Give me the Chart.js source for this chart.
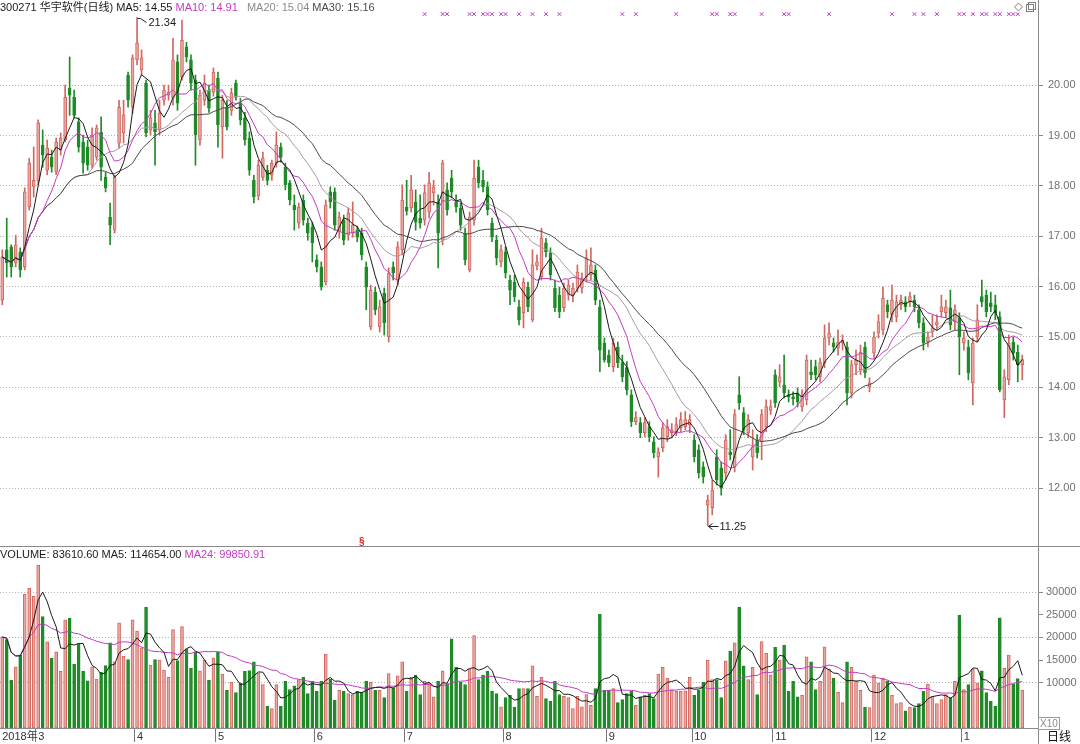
<!DOCTYPE html>
<html>
<head>
<meta charset="utf-8">
<script src="https://cdn.jsdelivr.net/npm/chart.js@4.4.0/dist/chart.umd.min.js"></script>
<style>
  html, body { margin: 0; padding: 0; background: #fff; }
  body { width: 1080px; height: 744px; position: relative; overflow: hidden;
         font-family: "Liberation Sans", "Noto Sans CJK SC", sans-serif; }
  canvas { position: absolute; left: 0; }
  #priceCanvas { top: 0; }
  #volCanvas { top: 547px; }
  .txt { position: absolute; font-size: 11px; line-height: 12px; white-space: nowrap; }
  .rule { position: absolute; background: #8a8a8a; }
</style>
</head>
<body>
<canvas id="priceCanvas" width="1080" height="546"></canvas>
<canvas id="volCanvas" width="1080" height="197"></canvas>
<div class="rule" style="left:0;top:546px;width:1080px;height:1px"></div>
<div class="rule" style="left:1038px;top:728px;width:1px;height:16px"></div>

<div class="txt" style="left:0;top:1px">
  <span style="color:#1a1a1a">300271 华宇软件(日线) MA5: 14.55</span>
  <span style="color:#c23bc2">MA10: 14.91</span>
  <span style="color:#8c8c8c;margin-left:6px">MA20: 15.04</span>
  <span style="color:#4a4a4a">MA30: 15.16</span>
</div>
<div class="txt" style="left:0;top:548px">
  <span style="color:#1a1a1a">VOLUME: 83610.60 MA5: 114654.00</span>
  <span style="color:#c23bc2">MA24: 99850.91</span>
</div>
<div class="txt" style="left:1038px;top:717px;width:20px;height:11px;border:1px solid #9a9a9a;color:#8a8a8a;font-size:10px;line-height:11px;text-align:center">X10</div>
<div class="txt" style="left:1047px;top:731px;font-size:12px;line-height:13px;color:#111">日线</div>

<script>
// daily candles, 2018-02 .. 2019-01
const opens = [
  15.73,16.73,16.79,16.47,16.69,16.39,17.58,17.99,18.11,18.81,
  18.31,18.57,18.27,18.71,18.91,19.94,19.76,19.27,18.87,18.77,
  18.41,18.57,19.07,18.17,17.38,17.12,18.85,19.05,20.20,19.56,
  20.50,20.30,20.04,19.11,19.25,19.11,19.70,19.80,19.74,20.46,
  20.16,20.76,20.50,20.10,18.91,19.70,19.90,19.86,20.14,19.17,
  19.56,19.50,20.04,19.64,19.35,18.95,18.11,17.80,18.17,18.31,
  18.21,18.45,18.77,18.37,18.06,17.62,17.26,17.72,17.26,17.18,
  16.53,16.39,16.09,17.88,17.88,17.08,17.32,17.02,17.06,17.12,
  17.06,16.39,15.20,15.89,15.20,15.87,15.00,16.39,16.13,16.73,
  17.58,17.56,17.68,17.36,17.32,17.48,17.86,17.68,16.92,17.92,
  18.15,17.68,17.56,17.06,16.33,17.32,18.37,18.11,17.98,17.26,
  16.92,16.49,16.69,16.13,16.09,15.60,15.48,15.99,15.34,16.41,
  16.19,16.87,16.67,15.97,15.83,15.58,15.83,15.83,15.97,15.97,
  16.19,16.23,16.33,15.60,14.88,14.64,14.41,14.80,14.49,14.39,
  13.85,13.32,13.30,13.10,13.22,12.92,12.62,12.80,13.02,13.10,
  13.12,13.20,13.22,13.26,12.96,12.76,12.42,11.66,11.61,12.62,
  12.40,12.30,12.72,12.42,13.85,13.50,13.10,12.62,12.96,12.92,
  13.22,13.54,14.25,14.11,14.05,13.85,13.81,13.89,13.61,13.75,
  14.31,14.41,14.21,14.49,14.98,14.88,14.78,14.88,14.80,13.89,
  14.45,14.35,14.80,14.01,14.68,15.08,15.14,15.64,15.44,15.40,
  15.64,15.70,15.70,15.73,15.54,15.28,14.90,15.10,15.24,15.50,
  15.48,15.58,15.30,15.38,14.88,14.80,14.09,15.00,15.80,15.83,
  15.68,15.64,15.40,13.75,14.15,14.90,14.70,14.45
];
const highs = [
  16.73,17.36,16.83,17.02,16.77,17.96,18.55,18.77,19.31,19.11,
  18.91,18.71,18.95,19.05,20.00,20.56,19.90,19.35,19.01,18.91,
  19.15,19.21,19.37,18.27,17.66,18.21,19.70,19.70,20.26,20.60,
  21.34,20.70,20.10,19.50,19.50,19.70,20.00,20.00,20.93,20.60,
  21.29,20.85,20.60,20.20,19.90,20.20,20.00,20.34,20.26,19.80,
  19.70,19.94,20.10,19.74,19.46,19.07,18.21,18.51,18.67,18.41,
  18.51,19.07,18.85,18.45,18.11,17.82,17.66,17.82,17.36,17.28,
  16.63,16.49,17.72,17.98,17.96,17.48,17.42,17.56,17.68,17.20,
  17.16,16.49,16.03,15.99,15.73,15.97,16.37,16.49,16.89,18.02,
  18.11,18.21,17.92,17.82,18.02,18.27,18.11,17.82,18.51,18.06,
  18.31,17.82,17.66,17.16,17.48,18.51,18.51,18.31,18.08,17.36,
  17.02,16.83,16.79,16.23,16.23,15.73,16.17,16.09,16.73,16.63,
  17.16,16.96,16.77,16.13,15.99,16.07,16.13,16.07,16.43,16.27,
  16.73,16.77,16.43,15.73,14.98,14.74,14.98,14.90,14.64,14.51,
  13.95,13.52,13.40,13.40,13.32,13.02,12.80,13.30,13.36,13.28,
  13.40,13.50,13.52,13.46,13.06,12.86,12.52,11.86,12.16,12.76,
  12.52,13.06,13.16,13.56,14.21,13.60,13.46,13.16,13.06,13.56,
  13.75,13.75,14.35,14.45,14.64,13.95,13.91,13.99,13.95,14.64,
  14.54,14.54,14.58,15.24,15.28,14.98,15.14,15.04,14.90,14.54,
  14.74,14.84,14.90,14.19,15.10,15.44,15.99,15.73,16.03,15.83,
  15.83,15.80,15.89,15.83,15.64,15.38,15.10,15.44,15.44,15.83,
  15.73,15.93,15.64,15.48,15.10,14.94,14.98,15.64,16.13,15.93,
  15.89,15.83,15.50,14.35,15.04,15.00,14.84,14.64
];
const lows = [
  15.64,16.19,16.19,16.39,16.19,16.33,17.52,17.78,18.02,18.37,
  18.22,18.27,18.22,18.61,18.87,19.40,19.35,18.67,18.25,18.31,
  18.35,18.51,18.11,17.88,16.83,17.06,18.75,18.85,19.56,19.44,
  20.40,20.20,18.97,19.01,18.41,19.01,19.60,19.70,19.60,19.50,
  20.10,20.46,19.90,18.41,18.81,19.60,19.46,19.78,18.77,18.55,
  19.11,19.40,19.70,19.21,18.81,18.21,17.66,17.72,18.11,18.02,
  18.11,18.37,18.47,17.92,17.62,17.12,17.16,17.22,16.92,16.49,
  16.29,15.93,16.03,17.56,17.12,16.96,16.83,16.92,16.98,16.89,
  16.53,15.54,15.14,15.44,15.10,15.04,14.90,16.13,16.03,16.63,
  17.42,17.48,17.12,17.16,17.22,17.36,17.62,16.37,16.83,17.42,
  17.76,17.48,17.12,16.43,16.29,17.22,17.96,17.88,17.42,16.89,
  16.43,16.39,16.17,15.64,15.70,15.24,15.18,15.50,15.30,16.33,
  16.13,16.59,16.13,15.50,15.38,15.50,15.73,15.70,15.89,15.87,
  16.09,16.13,15.64,14.31,14.50,14.41,14.31,14.39,14.11,13.85,
  13.22,13.26,13.00,13.02,12.92,12.60,12.22,12.72,12.92,13.00,
  13.04,13.12,13.16,13.10,12.52,12.20,12.10,11.25,11.47,12.06,
  11.86,12.16,12.56,12.32,13.56,13.06,13.00,12.36,12.60,12.56,
  13.12,13.46,13.60,14.01,13.79,13.71,13.65,13.61,13.52,13.65,
  14.15,14.15,14.11,14.39,14.84,14.70,14.64,14.74,13.65,13.79,
  14.25,14.25,14.19,13.91,14.58,14.98,15.04,15.38,15.30,15.30,
  15.54,15.50,15.60,15.50,15.18,14.74,14.80,15.00,15.14,15.40,
  15.38,15.14,15.14,14.25,14.74,14.15,13.65,14.90,15.60,15.40,
  15.50,15.34,13.91,13.40,14.05,14.54,14.11,14.15
];
const closes = [
  16.59,16.47,16.39,16.83,16.33,17.88,18.45,18.11,19.25,18.61,
  18.75,18.37,18.87,18.95,19.76,19.80,19.40,18.77,18.45,18.41,
  19.01,19.15,18.37,17.96,17.22,18.17,19.56,19.41,19.70,20.54,
  20.84,20.54,19.05,19.35,19.07,19.44,19.90,19.86,20.50,19.64,
  20.89,20.56,20.04,19.01,19.80,20.04,19.54,20.26,19.21,19.70,
  19.17,19.84,19.76,19.31,18.91,18.31,17.78,18.41,18.55,18.11,
  18.45,18.81,18.57,18.02,17.72,17.52,17.58,17.32,17.06,16.87,
  16.39,15.99,17.62,17.68,17.22,17.38,16.92,17.46,17.22,16.98,
  16.63,15.99,15.93,15.54,15.60,15.28,16.27,16.27,16.79,17.72,
  17.50,17.92,17.28,17.26,17.86,18.06,17.98,17.06,18.45,17.52,
  17.88,17.58,17.22,16.53,17.38,18.15,18.06,17.98,17.52,16.98,
  16.57,16.73,16.27,15.93,15.80,15.34,16.09,15.60,16.43,16.49,
  16.96,16.69,16.23,15.58,15.50,15.97,16.03,15.97,16.29,16.17,
  16.57,16.43,15.73,14.74,14.54,14.49,14.88,14.49,14.21,13.95,
  13.32,13.40,13.10,13.30,13.02,12.70,12.72,13.20,13.22,13.16,
  13.26,13.36,13.36,13.36,12.62,12.30,12.22,11.76,11.96,12.16,
  12.00,12.96,12.66,13.46,13.69,13.16,13.36,12.82,12.70,13.46,
  13.62,13.62,13.69,14.21,13.89,13.81,13.77,13.71,13.85,14.54,
  14.25,14.25,14.49,14.98,15.08,14.80,14.90,14.94,13.89,14.45,
  14.54,14.70,14.29,14.09,15.00,15.30,15.77,15.50,15.73,15.70,
  15.73,15.60,15.80,15.60,15.28,14.88,15.00,15.18,15.30,15.60,
  15.60,15.24,15.54,15.00,14.98,14.29,14.88,15.34,15.70,15.50,
  15.60,15.48,13.95,14.21,14.88,14.68,14.45,14.55
];
// volume in axis units (x10 shares)
const volumes = [
  20100,19500,10500,13500,16100,29500,30900,29100,35900,24600,
  19000,15400,16800,12500,23900,24200,14100,18600,12500,10400,
  13500,10800,12300,13800,18800,14600,23200,15900,15100,23900,
  21400,17700,26700,13900,15100,15000,12800,11200,21700,14900,
  22400,17500,13200,16800,12600,15000,10500,15500,16800,11900,
  8300,10100,7800,9900,12500,12700,14600,12200,9600,4800,
  4300,9600,4800,10300,8500,9300,10700,11200,7600,10300,
  8100,10300,16300,10800,6100,8300,8100,7600,7400,8100,
  7900,10300,10100,8300,8300,6700,12000,8800,11500,14600,
  8100,11200,11700,7400,10300,9900,6900,10300,12600,9800,
  19700,13400,10100,9600,13000,20400,10700,11700,12500,8100,
  7600,4700,6700,7200,4600,8700,8700,8700,13700,7000,
  11200,6500,5900,10300,7400,7000,6700,4300,7000,4700,
  7400,5000,8700,25100,8300,8300,8700,5600,6300,7600,
  8100,5000,6900,7200,7600,6500,11900,13400,11000,8500,
  8100,8100,8200,11200,7200,8300,10100,15000,10700,10700,
  6700,14800,17000,18800,26700,13700,10700,13400,7400,19100,
  16500,11700,17800,15000,18300,8100,10300,6900,7200,15700,
  14600,8500,10300,17900,13000,11000,7900,5600,14600,13400,
  10300,8300,4600,4500,11700,9900,11000,10400,7200,5400,
  5600,3800,4600,4500,5400,8100,9700,7000,5400,6300,
  7400,6700,10300,24900,8500,9600,13000,9900,12600,7800,
  5900,4800,24300,13200,16100,9700,10900,8361
];
// signal markers (day index) along the top
const markerDays = [94,98,99,104,105,107,108,109,111,112,115,118,121,124,138,141,150,
  158,159,162,163,169,174,175,184,198,203,205,208,213,214,216,218,219,221,222,224,225,226];
const dividendDay = 80;
// month ticks on the date axis
const monthTickIdx = [0, 8, 30, 48, 70, 90, 112, 135, 154, 172, 194, 214];
const monthTickText = ['2018年', '3', '4', '5', '6', '7', '8', '9', '10', '11', '12', '1'];
const priceTicks = [12, 13, 14, 15, 16, 17, 18, 19, 20];
const volumeTicks = [10000, 15000, 20000, 25000, 30000];

const SLOTS = 231;
const slotLabels = Array.from({ length: SLOTS }, (_, i) => String(i));

const FONT = '"Liberation Sans", "Noto Sans CJK SC", sans-serif';
Chart.defaults.font.family = FONT;
Chart.defaults.font.size = 11;

const upFill = '#e9a7a2', upLine = '#d2665f', downCol = '#1f8b28';
const isUp = closes.map((c, i) => c >= opens[i]);

function movingAverage(values, n) {
  return values.map((_, i) => {
    const win = values.slice(Math.max(0, i - n + 1), i + 1);
    return win.reduce((a, b) => a + b, 0) / win.length;
  });
}

function rightAxisFit(s) {
  s.width = 42;
  s.paddingTop = 0;
  s.paddingBottom = 0;
}

const lineDs = (label, data, color, order) => ({
  type: 'line', label, data, borderColor: color, borderWidth: 1,
  pointRadius: 0, pointHitRadius: 0, tension: 0, fill: false, order
});

// annotations: high / low labels, dividend mark, corner icons
const priceNotes = {
  id: 'priceNotes',
  afterDatasetsDraw(chart) {
    const { ctx, scales: { x, y }, chartArea } = chart;
    ctx.save();
    ctx.font = '11px ' + FONT;
    ctx.strokeStyle = '#222';
    ctx.fillStyle = '#222';
    ctx.lineWidth = 1;
    ctx.textBaseline = 'middle';

    const hi = Math.max(...highs), iHi = highs.indexOf(hi);
    let px = Math.round(x.getPixelForValue(iHi)) + 0.5;
    let py = Math.round(y.getPixelForValue(hi)) + 0.5;
    ctx.beginPath();
    ctx.moveTo(px, py); ctx.lineTo(px + 3, py); ctx.lineTo(px + 9, py + 4);
    ctx.stroke();
    ctx.fillText(hi.toFixed(2), px + 11, py + 4);

    const lo = Math.min(...lows), iLo = lows.indexOf(lo);
    px = Math.round(x.getPixelForValue(iLo)) + 0.5;
    py = Math.round(y.getPixelForValue(lo)) + 0.5;
    ctx.beginPath();
    ctx.moveTo(px, py); ctx.lineTo(px + 10, py);
    ctx.moveTo(px + 4, py - 3); ctx.lineTo(px, py); ctx.lineTo(px + 4, py + 3);
    ctx.stroke();
    ctx.fillText(lo.toFixed(2), px + 11, py);

    ctx.fillStyle = '#d02828';
    ctx.font = 'bold 10px ' + FONT;
    ctx.textAlign = 'center';
    ctx.fillText('§', x.getPixelForValue(dividendDay), chartArea.bottom - 4);

    ctx.strokeStyle = '#808080';
    ctx.beginPath();
    ctx.moveTo(1018.5, 3); ctx.lineTo(1022.5, 7); ctx.lineTo(1018.5, 11); ctx.lineTo(1014.5, 7); ctx.closePath();
    ctx.stroke();
    ctx.strokeRect(1026.5, 4.5, 7, 7);
    ctx.strokeRect(1028.5, 2.5, 7, 7);
    ctx.restore();
  }
};

new Chart(document.getElementById('priceCanvas'), {
  type: 'bar',
  data: {
    labels: slotLabels,
    datasets: [
      { type: 'bar', data: lows.map((l, i) => [l, highs[i]]),
        backgroundColor: isUp.map(u => u ? upLine : downCol),
        barThickness: 1, grouped: false, order: 5 },
      { type: 'bar', data: opens.map((o, i) => [o, closes[i]]),
        backgroundColor: isUp.map(u => u ? upFill : downCol),
        borderColor: isUp.map(u => u ? upLine : downCol),
        borderWidth: 1, borderSkipped: false, minBarLength: 1,
        barThickness: 3, grouped: false, order: 4 },
      lineDs('MA30', movingAverage(closes, 30), '#4a4a4a', 3),
      lineDs('MA20', movingAverage(closes, 20), '#a898a4', 3),
      lineDs('MA10', movingAverage(closes, 10), '#c23bc2', 2),
      lineDs('MA5', movingAverage(closes, 5), '#1a1a1a', 1),
      { type: 'line', data: closes.map((_, i) => markerDays.includes(i) ? 21.41 : null),
        showLine: false, pointStyle: 'crossRot', pointRadius: 2.6, pointHitRadius: 0,
        borderColor: '#c23bc2', borderWidth: 1, order: 0 }
    ]
  },
  options: {
    responsive: false, animation: false, events: [],
    layout: { padding: 0, autoPadding: false },
    plugins: { legend: { display: false }, tooltip: { enabled: false } },
    scales: {
      x: { type: 'category', display: false, offset: true, grid: { offset: true } },
      y: {
        position: 'right', min: 10.85, max: 21.69,
        afterBuildTicks: s => { s.ticks = priceTicks.map(v => ({ value: v })); },
        afterFit: rightAxisFit,
        ticks: { color: '#707070', padding: 5, callback: v => Number(v).toFixed(2) },
        grid: { color: '#b0b0b0', tickColor: '#8a8a8a', tickLength: 5 },
        border: { display: true, color: '#8a8a8a', dash: [1, 2] }
      }
    }
  },
  plugins: [priceNotes]
});

new Chart(document.getElementById('volCanvas'), {
  type: 'bar',
  data: {
    labels: slotLabels,
    datasets: [
      { type: 'bar', data: volumes,
        backgroundColor: isUp.map(u => u ? upFill : downCol),
        borderColor: isUp.map(u => u ? upLine : downCol),
        borderWidth: 1, borderSkipped: false, barThickness: 3, order: 3 },
      lineDs('MA24', movingAverage(volumes, 24), '#c23bc2', 2),
      lineDs('MA5', movingAverage(volumes, 5), '#1a1a1a', 1)
    ]
  },
  options: {
    responsive: false, animation: false, events: [],
    layout: { padding: 0, autoPadding: false },
    plugins: { legend: { display: false }, tooltip: { enabled: false } },
    scales: {
      x: {
        type: 'category', offset: true,
        afterFit: s => { s.height = 16; s.paddingLeft = 0; s.paddingRight = 0; },
        grid: {
          offset: true, drawOnChartArea: false, tickLength: 14,
          color: c => (monthTickIdx.indexOf(c.index) > 0 ? '#777' : 'transparent')
        },
        border: { display: true, color: '#8a8a8a' },
        ticks: {
          autoSkip: false, maxRotation: 0, minRotation: 0, align: 'start', padding: -12,
          color: '#333',
          callback: (v, i) => { const k = monthTickIdx.indexOf(i); return k >= 0 ? monthTickText[k] : ''; }
        }
      },
      y: {
        position: 'right', min: 0, max: 39950,
        afterBuildTicks: s => { s.ticks = volumeTicks.map(v => ({ value: v })); },
        afterFit: rightAxisFit,
        ticks: { color: '#707070', padding: 3, callback: v => String(v) },
        grid: {
          color: c => (c.tick && c.tick.value % 10000 === 0 ? '#b0b0b0' : 'transparent'),
          tickColor: '#8a8a8a', tickLength: 5
        },
        border: { display: true, color: '#8a8a8a', dash: [1, 2] }
      }
    }
  }
});
</script>
</body>
</html>
